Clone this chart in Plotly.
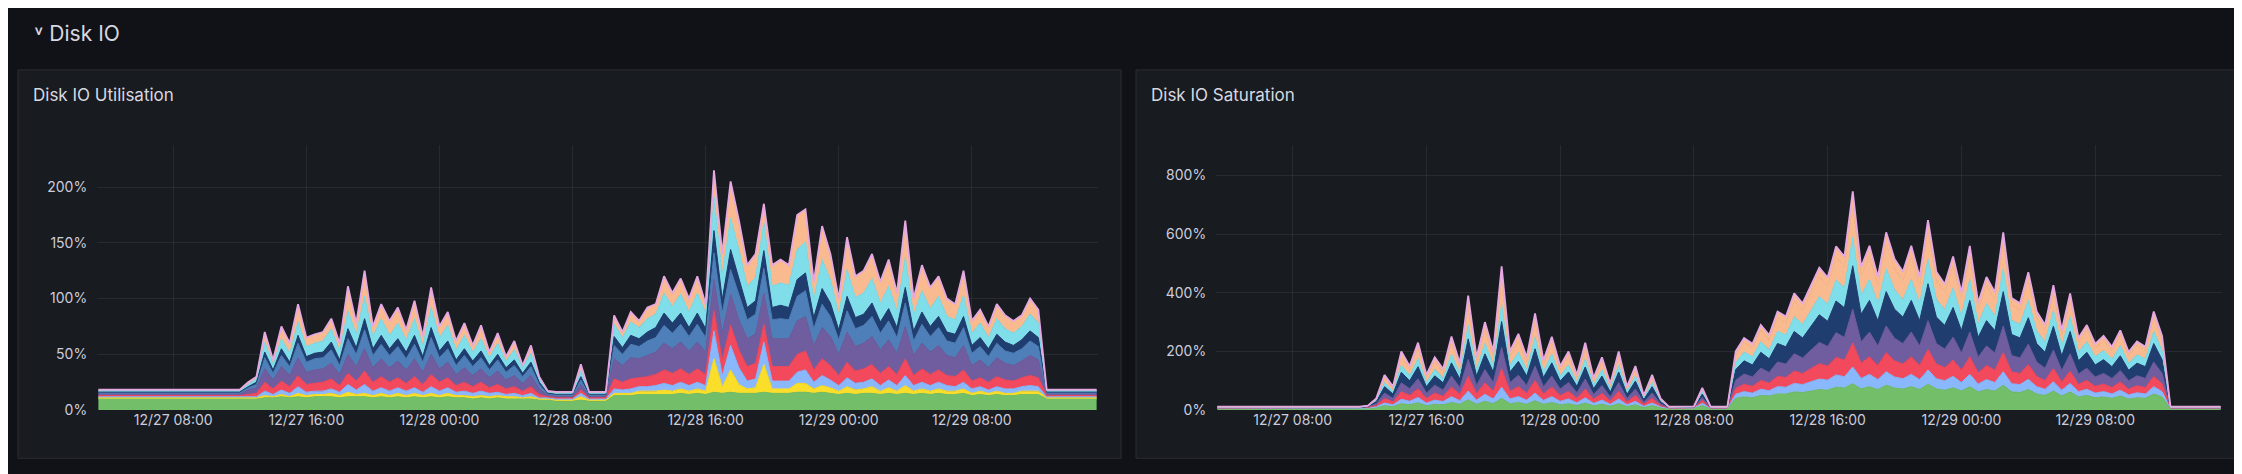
import pandas as pd
import plotly.graph_objects as go

# time axis: 30 min steps, 12/27 03:30 -> 12/29 15:30
times = pd.date_range('2024-12-27 03:30', periods=121, freq='30min')

# ---------------- Disk IO Utilisation (%), stacked layers bottom -> top ----------------
util_names = ['sda', 'sdb', 'sdc', 'sdd', 'sde', 'sdf', 'sdg', 'sdh', 'sdi']
util_colors = ['#73BF69', '#FADE2A', '#8AB8FF', '#F2495C', '#705DA0', '#4F7FB8', '#1F3D6E', '#80DEEA', '#F9BA8F']
util_lines = ['#73BF69', '#FADE2A', '#8AB8FF', '#F2495C', '#705DA0', '#4F7FB8', '#1F3D6E', '#80DEEA', '#E5A8E2']

util_green = [10] * 18 + [10, 10, 11, 11, 12, 11, 12, 11, 12, 12, 12, 11, 12, 12, 12, 11, 12, 11, 12, 11, 12, 11, 12, 11, 12, 11, 11, 10, 11, 10, 11, 10, 10, 10, 10, 9] \
    + [9, 8, 8, 8, 9, 8, 8, 8] \
    + [13, 13, 13, 14, 14, 14, 14, 14, 15, 14, 15, 14, 16, 15, 16, 15, 15, 15, 16, 15, 15, 15, 16, 16, 15, 16, 15, 14, 15, 14, 15, 15, 14, 15, 14, 15, 14, 15, 14, 15, 14, 14, 15, 13, 14, 13, 14, 13, 13, 14, 14, 14] \
    + [10] * 7
util_yellow = [1] * 18 + [1, 1, 2, 1, 2, 1, 3, 2, 2, 2, 3, 2, 4, 2, 3, 2, 3, 2, 3, 2, 3, 2, 3, 2, 3, 2, 2, 2, 2, 2, 2, 2, 2, 1, 2, 1] \
    + [1, 1, 1, 1, 3, 1, 1, 1] \
    + [2, 2, 2, 3, 3, 3, 4, 3, 4, 3, 4, 3, 30, 6, 20, 8, 4, 5, 25, 4, 4, 4, 8, 8, 4, 6, 5, 3, 6, 4, 4, 6, 3, 5, 3, 7, 3, 4, 3, 4, 3, 3, 4, 2, 3, 2, 3, 2, 2, 3, 3, 3] \
    + [1] * 7
util_lblue = [1] * 18 + [1, 1, 4, 2, 4, 3, 6, 3, 3, 3, 4, 3, 7, 4, 8, 4, 5, 4, 5, 4, 5, 3, 6, 4, 5, 3, 4, 3, 4, 3, 3, 2, 3, 2, 3, 1] \
    + [1, 1, 1, 1, 3, 1, 1, 1] \
    + [4, 3, 4, 4, 4, 5, 6, 5, 6, 5, 6, 5, 25, 10, 22, 15, 7, 8, 20, 7, 7, 7, 10, 12, 6, 9, 7, 5, 8, 6, 6, 7, 5, 7, 5, 9, 5, 6, 5, 6, 5, 4, 6, 4, 4, 3, 4, 4, 4, 4, 5, 4] \
    + [1] * 7
util_red = [1] * 18 + [2, 3, 8, 5, 8, 6, 10, 7, 7, 8, 9, 6, 10, 8, 12, 8, 10, 8, 9, 7, 10, 7, 11, 8, 9, 6, 8, 6, 8, 5, 7, 5, 6, 4, 6, 3] \
    + [1, 1, 1, 1, 3, 1, 1, 1] \
    + [9, 7, 9, 8, 9, 10, 12, 11, 12, 10, 12, 10, 18, 14, 18, 16, 13, 14, 16, 13, 13, 13, 16, 17, 11, 15, 13, 9, 14, 11, 12, 13, 11, 12, 10, 15, 9, 12, 10, 11, 9, 9, 11, 7, 8, 7, 9, 8, 7, 8, 9, 8] \
    + [1] * 7
util_violet = [1.5] * 18 + [4, 5, 12, 8, 13, 10, 16, 11, 12, 12, 14, 10, 17, 13, 20, 13, 16, 13, 15, 12, 16, 11, 18, 12, 14, 10, 13, 10, 12, 9, 12, 8, 10, 7, 10, 5] \
    + [1.5, 1.5, 1.5, 1.5, 5, 1.5, 1.5, 1.5] \
    + [18, 15, 19, 17, 19, 20, 24, 22, 24, 21, 24, 20, 28, 24, 28, 27, 25, 26, 28, 25, 25, 25, 30, 31, 22, 28, 26, 19, 27, 22, 23, 25, 21, 24, 19, 29, 18, 23, 20, 22, 18, 17, 22, 14, 16, 13, 17, 15, 14, 15, 18, 16] \
    + [1.5] * 7
util_steel = [1] * 18 + [2, 3, 10, 6, 10, 8, 13, 9, 10, 10, 12, 8, 14, 11, 17, 11, 13, 11, 13, 10, 13, 9, 15, 10, 12, 8, 11, 8, 10, 7, 10, 7, 9, 6, 8, 4] \
    + [1, 1, 1, 1, 4, 1, 1, 1] \
    + [12, 10, 12, 11, 13, 13, 16, 14, 16, 13, 16, 13, 24, 18, 22, 22, 17, 18, 22, 17, 18, 17, 22, 23, 15, 21, 18, 13, 19, 16, 16, 18, 15, 17, 14, 21, 13, 17, 14, 16, 13, 13, 16, 11, 12, 10, 13, 11, 11, 11, 13, 12] \
    + [1] * 7
util_dblue = [0.8] * 18 + [1, 2, 5, 3, 6, 4, 7, 5, 5, 5, 7, 5, 9, 6, 10, 6, 8, 6, 7, 6, 8, 5, 9, 6, 7, 5, 6, 5, 6, 4, 5, 4, 5, 3, 4, 2] \
    + [0.8, 0.8, 0.8, 0.8, 3, 0.8, 0.8, 0.8] \
    + [8, 6, 8, 7, 8, 9, 11, 9, 10, 8, 10, 8, 20, 12, 18, 15, 11, 12, 16, 11, 12, 11, 15, 16, 10, 14, 12, 9, 13, 10, 10, 12, 10, 11, 9, 14, 9, 11, 9, 10, 8, 8, 10, 7, 8, 7, 8, 8, 7, 8, 9, 8] \
    + [0.8] * 7
util_cyan = [1] * 18 + [2, 3, 9, 5, 9, 8, 12, 9, 9, 10, 12, 8, 16, 12, 20, 11, 15, 12, 14, 11, 15, 10, 18, 12, 14, 9, 12, 8, 11, 7, 10, 6, 9, 5, 8, 3] \
    + [1, 1, 1, 1, 5, 1, 1, 1] \
    + [11, 9, 12, 10, 12, 12, 18, 15, 17, 14, 18, 14, 30, 22, 28, 26, 19, 21, 25, 19, 20, 20, 27, 28, 16, 26, 21, 14, 24, 18, 19, 22, 17, 20, 15, 27, 14, 19, 16, 18, 14, 13, 19, 11, 13, 10, 14, 12, 11, 12, 15, 13] \
    + [1] * 7
util_peach = [1] * 18 + [2, 2, 9, 4, 11, 9, 16, 8, 8, 8, 9, 7, 22, 10, 23, 9, 13, 13, 14, 9, 16, 8, 18, 10, 12, 8, 11, 6, 12, 5, 9, 4, 8, 2, 7, 2] \
    + [1, 1, 1, 1, 6, 1, 1, 1] \
    + [8, 5, 9, 6, 10, 9, 15, 12, 14, 12, 15, 8, 24, 19, 33, 26, 19, 21, 17, 19, 21, 18, 31, 29, 16, 30, 23, 14, 29, 19, 20, 22, 19, 24, 16, 33, 15, 23, 19, 18, 16, 14, 22, 11, 12, 10, 13, 12, 11, 10, 14, 12] \
    + [1] * 7

# ---------------- Disk IO Saturation (%) ----------------
sat_green = [5] * 18 + [5, 8, 15, 12, 22, 18, 25, 15, 20, 18, 26, 20, 35, 20, 30, 22, 40, 22, 26, 20, 32, 20, 26, 18, 22, 16, 24, 15, 20, 13, 22, 12, 18, 9, 15, 8] \
    + [5, 5, 5, 6, 15, 5, 5, 5] \
    + [40, 45, 42, 50, 48, 55, 55, 62, 60, 65, 70, 68, 78, 75, 90, 72, 80, 70, 85, 75, 72, 80, 70, 88, 72, 68, 76, 65, 80, 62, 70, 65, 85, 62, 60, 70, 55, 50, 65, 48, 62, 45, 50, 42, 45, 40, 48, 38, 42, 40, 55, 45] \
    + [5] * 7
sat_lblue = [1] * 18 + [2, 3, 9, 6, 15, 12, 18, 9, 14, 11, 20, 12, 30, 14, 24, 16, 38, 16, 20, 14, 26, 13, 20, 12, 16, 9, 18, 8, 14, 7, 16, 6, 12, 4, 9, 3] \
    + [1, 1, 1, 1, 8, 1, 1, 1] \
    + [14, 18, 16, 21, 18, 25, 23, 29, 27, 32, 36, 34, 42, 39, 57, 36, 42, 34, 46, 38, 35, 42, 34, 49, 35, 32, 39, 29, 42, 27, 34, 29, 46, 28, 27, 35, 25, 21, 32, 20, 29, 18, 21, 16, 18, 15, 20, 14, 17, 15, 25, 18] \
    + [1] * 7
sat_red = [1] * 18 + [2, 5, 16, 10, 26, 20, 30, 16, 24, 18, 33, 21, 50, 23, 39, 26, 63, 26, 34, 23, 43, 22, 33, 20, 26, 16, 30, 14, 23, 12, 26, 10, 20, 7, 16, 5] \
    + [1, 1, 1, 1, 10, 1, 1, 1] \
    + [20, 25, 23, 30, 26, 35, 33, 42, 38, 45, 52, 48, 60, 56, 82, 52, 60, 48, 65, 55, 50, 60, 48, 70, 50, 45, 56, 42, 60, 38, 48, 42, 65, 40, 38, 50, 35, 30, 45, 28, 42, 25, 30, 23, 26, 22, 28, 20, 24, 22, 35, 26] \
    + [1] * 7
sat_violet = [1] * 18 + [2, 6, 18, 12, 30, 23, 34, 18, 27, 21, 37, 24, 58, 27, 45, 30, 73, 30, 39, 27, 49, 25, 37, 22, 30, 18, 34, 16, 27, 13, 30, 12, 22, 7, 18, 6] \
    + [1, 1, 1, 1, 10, 1, 1, 1] \
    + [28, 35, 32, 42, 36, 49, 46, 59, 53, 63, 73, 67, 84, 78, 115, 73, 84, 67, 91, 77, 70, 84, 67, 98, 70, 63, 78, 59, 84, 53, 67, 59, 91, 56, 53, 70, 49, 42, 63, 39, 59, 35, 42, 32, 36, 31, 39, 28, 34, 31, 49, 36] \
    + [1] * 7
sat_dblue = [1] * 18 + [2, 7, 22, 15, 36, 27, 41, 22, 32, 25, 45, 29, 70, 32, 54, 36, 88, 36, 47, 32, 59, 31, 45, 27, 36, 22, 41, 20, 32, 16, 36, 14, 27, 9, 22, 7] \
    + [1, 1, 1, 1, 12, 1, 1, 1] \
    + [36, 45, 41, 54, 47, 63, 59, 76, 68, 81, 94, 86, 108, 101, 148, 94, 108, 86, 117, 99, 90, 108, 86, 126, 90, 81, 101, 76, 108, 68, 86, 76, 117, 72, 68, 90, 63, 54, 81, 50, 76, 45, 54, 41, 47, 40, 50, 36, 43, 40, 63, 47] \
    + [1] * 7
sat_cyan = [1] * 18 + [1, 5, 14, 10, 24, 18, 28, 14, 22, 17, 30, 19, 47, 22, 36, 24, 59, 24, 31, 22, 40, 20, 30, 18, 24, 14, 28, 13, 22, 11, 24, 10, 18, 6, 14, 5] \
    + [1, 1, 1, 1, 8, 1, 1, 1] \
    + [24, 30, 28, 36, 31, 42, 40, 50, 46, 54, 62, 58, 72, 67, 98, 62, 72, 58, 78, 66, 60, 72, 58, 84, 60, 54, 67, 50, 72, 46, 58, 50, 78, 48, 46, 60, 42, 36, 54, 34, 50, 30, 36, 28, 31, 26, 34, 24, 29, 26, 42, 31] \
    + [1] * 7
sat_peach = [1] * 18 + [1, 4, 16, 9, 28, 20, 34, 17, 25, 19, 37, 22, 60, 25, 45, 28, 80, 28, 37, 25, 50, 23, 36, 21, 28, 16, 33, 15, 24, 11, 28, 9, 20, 5, 16, 4] \
    + [1, 1, 1, 1, 8, 1, 1, 1] \
    + [26, 33, 30, 39, 34, 46, 43, 55, 49, 59, 68, 62, 78, 73, 107, 68, 78, 62, 85, 72, 65, 78, 62, 91, 65, 59, 73, 55, 78, 49, 62, 55, 85, 52, 49, 65, 46, 39, 59, 36, 55, 33, 39, 30, 34, 29, 36, 26, 31, 29, 46, 34] \
    + [1] * 7
sat_pink = [1] * 18 + [0, 2, 10, 6, 19, 12, 20, 9, 16, 11, 23, 13, 40, 17, 27, 18, 49, 18, 26, 17, 31, 16, 23, 12, 18, 9, 22, 9, 18, 7, 18, 7, 13, 3, 10, 2] \
    + [1, 1, 1, 1, 5, 1, 1, 1] \
    + [12, 15, 14, 18, 16, 21, 20, 25, 23, 27, 31, 29, 36, 34, 49, 31, 36, 29, 39, 33, 30, 36, 29, 42, 30, 27, 34, 25, 36, 23, 29, 25, 39, 24, 23, 30, 21, 18, 27, 17, 25, 15, 18, 14, 16, 13, 17, 12, 14, 13, 21, 16] \
    + [1] * 7
sat_names = ['sda', 'sdc', 'sdd', 'sde', 'sdf', 'sdg', 'sdh', 'sdi']
sat_colors = ['#73BF69', '#8AB8FF', '#F2495C', '#705DA0', '#1F3D6E', '#80DEEA', '#F9BA8F', '#F9BA8F']
sat_lines = ['#73BF69', '#8AB8FF', '#F2495C', '#705DA0', '#1F3D6E', '#80DEEA', '#F9BA8F', '#E5A8E2']

util_series = [util_green, util_yellow, util_lblue, util_red, util_violet, util_steel, util_dblue, util_cyan, util_peach]
sat_series = [sat_green, sat_lblue, sat_red, sat_violet, sat_dblue, sat_cyan, sat_peach, sat_pink]

W, H = 2242, 474
fig = go.Figure()

for i, (name, col, lc, vals) in enumerate(zip(util_names, util_colors, util_lines, util_series)):
    fig.add_trace(go.Scatter(x=times, y=vals, name=name, stackgroup='u', mode='lines',
                             line=dict(color=lc, width=1.8 if i == len(util_series) - 1 else 1),
                             fillcolor=col, xaxis='x', yaxis='y'))
for i, (name, col, lc, vals) in enumerate(zip(sat_names, sat_colors, sat_lines, sat_series)):
    fig.add_trace(go.Scatter(x=times, y=vals, name=name, stackgroup='s', mode='lines',
                             line=dict(color=lc, width=1.8 if i == len(sat_series) - 1 else 1),
                             fillcolor=col, xaxis='x2', yaxis='y2'))

xr = ['2024-12-27 03:25', '2024-12-29 15:35']
grid = 'rgba(204,204,220,0.09)'
tickfont = dict(family='Inter', size=14, color='#ccccdc')
xcommon = dict(type='date', range=xr, tickformat='%m/%d %H:%M', dtick=8 * 3600 * 1000,
               tick0='2024-12-27 08:00', showgrid=True, gridcolor=grid, zeroline=False,
               tickfont=tickfont, showline=False, ticks='')
ycommon = dict(ticksuffix='%', showgrid=True, gridcolor=grid, zeroline=False,
               tickfont=tickfont, ticks='outside', ticklen=6, tickcolor='rgba(0,0,0,0)')

yd = [1 - 409 / H, 1 - 139 / H]
fig.update_layout(
    width=W, height=H, margin=dict(l=0, r=0, t=0, b=0),
    paper_bgcolor='#111217', plot_bgcolor='#181b1f', showlegend=False,
    font=dict(family='Inter', color='#ccccdc'),
    xaxis=dict(domain=[89 / W, 1090 / W], anchor='y', **xcommon),
    yaxis=dict(domain=yd, range=[0, 238], dtick=50, anchor='x', **ycommon),
    xaxis2=dict(domain=[1208 / W, 2214 / W], anchor='y2', **xcommon),
    yaxis2=dict(domain=yd, range=[0, 905], dtick=200, anchor='x2', **ycommon),
)

# panel backgrounds
for x0, x1 in [(10, 1113), (1128, 2231)]:
    fig.add_shape(type='rect', xref='paper', yref='paper', layer='below',
                  x0=x0 / W, x1=x1 / W, y0=1 - 458 / H, y1=1 - 63 / H,
                  fillcolor='#181b1f', line=dict(color='#2a2d33', width=1))

fig.add_annotation(text='˅ Disk IO', x=24 / W, y=1 - 26 / H, xref='paper', yref='paper',
                   xanchor='left', yanchor='middle', showarrow=False,
                   font=dict(family='Inter', size=21, color='#d8d9e0'))
for txt, x0 in [('Disk IO Utilisation', 23), ('Disk IO Saturation', 1141)]:
    fig.add_annotation(text=txt, x=x0 / W, y=1 - 88 / H, xref='paper', yref='paper',
                       xanchor='left', yanchor='middle', showarrow=False,
                       font=dict(family='Inter', size=17, color='#d8d9e0'))

fig.write_html("out.html")
